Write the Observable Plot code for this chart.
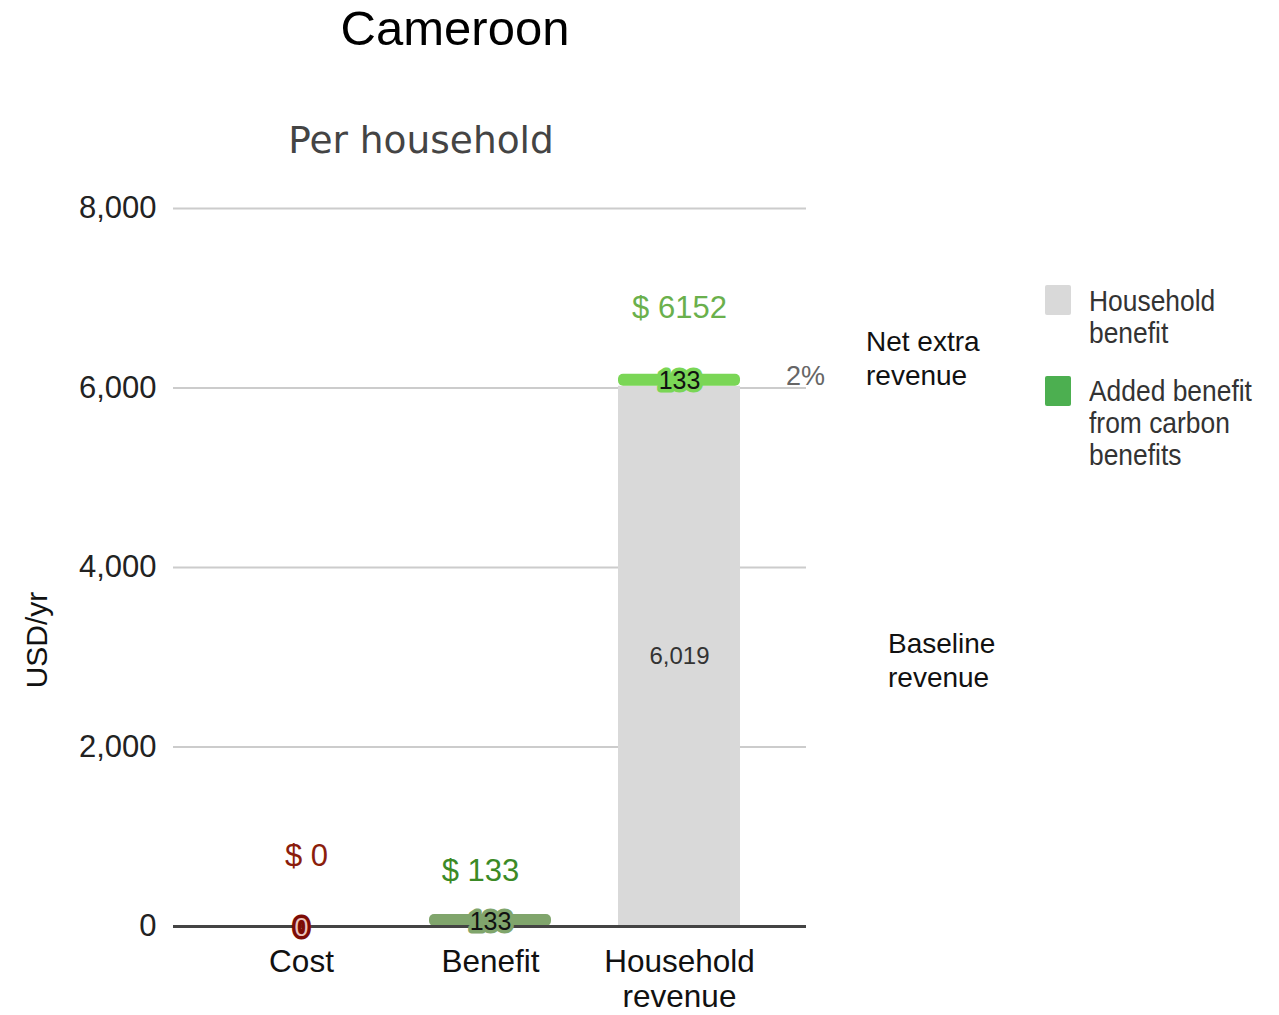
<!DOCTYPE html>
<html>
<head>
<meta charset="utf-8">
<script src="https://cdn.jsdelivr.net/npm/d3@7"></script>
<script src="https://cdn.jsdelivr.net/npm/@observablehq/plot@0.6"></script>
<style>
  html, body { margin: 0; padding: 0; background: #fff; }
  #wrap { position: relative; width: 1279px; height: 1015px; font-family: "Liberation Sans", Arial, sans-serif; overflow: hidden; }
  #chart { position: absolute; left: 0; top: 0; }
  .abs { position: absolute; white-space: nowrap; }
  .title { font-size: 49px; line-height: 1; color: #000; left: 455px; top: 4px; transform: translateX(-50%); }
  .subtitle { font-family: "DejaVu Sans", sans-serif; font-size: 37.5px; line-height: 1; color: #444; left: 421px; top: 122px; transform: translateX(-50%); }
  .ylab { font-size: 30px; line-height: 1; color: #111; left: 37px; top: 640px; transform: translate(-50%, -50%) rotate(-90deg); }
  .note { font-size: 28px; line-height: 34px; color: #111; }
  .sw { position: absolute; width: 26px; height: 30px; border-radius: 2px; }
  .leg { font-size: 30px; line-height: 32px; color: #333; transform: scaleX(0.88); transform-origin: left top; }
</style>
</head>
<body>
<div id="wrap">
  <div id="chart"></div>
  <div class="abs title" id="title"></div>
  <div class="abs subtitle" id="subtitle"></div>
  <div class="abs ylab" id="ylab"></div>
  <div class="abs note" id="note1" style="left:866px; top:325px;"></div>
  <div class="abs note" id="note2" style="left:888px; top:627px;"></div>
  <div class="sw" style="left:1045px; top:285px; background:#d9d9d9;"></div>
  <div class="abs leg" id="leg1" style="left:1089px; top:285px;"></div>
  <div class="sw" style="left:1045px; top:376px; background:#4caf50;"></div>
  <div class="abs leg" id="leg2" style="left:1089px; top:375px;"></div>
</div>
<script>
// ---- data ----
const titleText = "Cameroon";
const subtitleText = "Per household";
const categories = ["Cost", "Benefit", "Household revenue"];
const totals = [0, 133, 6152];
const householdBaseline = 6019;
const householdAdded = 133;
const benefitValue = 133;
const costValue = 0;
const shareText = "2%";
const yTicks = [0, 2000, 4000, 6000, 8000];
const yLabel = "USD/yr";
const notes = ["Net extra\nrevenue", "Baseline\nrevenue"];
const legendLabels = ["Household\nbenefit", "Added benefit\nfrom carbon\nbenefits"];

// ---- text blocks ----
const setLines = (id, s) => { document.getElementById(id).innerHTML = s.split("\n").join("<br>"); };
setLines("title", titleText);
setLines("subtitle", subtitleText);
setLines("ylab", yLabel);
setLines("note1", notes[0]);
setLines("note2", notes[1]);
setLines("leg1", legendLabels[0]);
setLines("leg2", legendLabels[1]);

// ---- tables ----
const totalRows = categories.map((c, i) => ({cat: c, total: totals[i]}));
const hh = categories[2];
const baseRows = [{cat: hh, y1: 0, y2: householdBaseline}];
const addedRows = [{cat: hh, y1: householdBaseline, y2: householdBaseline + householdAdded, v: householdAdded}];
const benefitRows = [{cat: categories[1], y1: 0, y2: benefitValue, v: benefitValue}];
const costRows = [{cat: categories[0], v: costValue}];

const chart = Plot.plot({
  width: 1279,
  height: 1015,
  marginLeft: 173,
  marginRight: 473,
  marginTop: 208,
  marginBottom: 89,
  style: {fontFamily: "'Liberation Sans', Arial, sans-serif", background: "#fff", overflow: "visible", color: "#222"},
  x: {domain: categories, paddingInner: 0.356, paddingOuter: 0.348, label: null},
  y: {domain: [0, 8000], label: null},
  marks: [
    Plot.gridY(yTicks.filter(d => d !== 0), {stroke: "#cccccc", strokeOpacity: 1, strokeWidth: 2}),
    Plot.axisY(yTicks, {tickSize: 0, tickPadding: 17, fontSize: 31, tickFormat: d3.format(","), label: null, fill: "#222"}),
    Plot.axisX({tickSize: 0, tickPadding: 20, fontSize: 31.5, lineHeight: 1.12, fill: "#111", label: null,
      tickFormat: d => d.replace(" ", "\n")}),
    Plot.barY(baseRows, {x: "cat", y1: "y1", y2: "y2", fill: "#d9d9d9"}),
    Plot.barY(addedRows, {x: "cat", y1: "y1", y2: "y2", fill: "#7ad656", rx: 5}),
    Plot.barY(benefitRows, {x: "cat", y1: "y1", y2: "y2", fill: "#80a56c", rx: 5}),
    Plot.ruleY([0], {stroke: "#444", strokeWidth: 3}),
    // value inside gray bar
    Plot.text(baseRows, {x: "cat", y: d => (d.y1 + d.y2) / 2, text: d => d3.format(",")(d.y2), fontSize: 24, fill: "#333"}),
    // labels on thin bars
    Plot.text(addedRows, {x: "cat", y: d => (d.y1 + d.y2) / 2, text: d => String(d.v), dy: 1, fontSize: 25, fill: "#111", stroke: "#7ad656", strokeWidth: 7}),
    Plot.text(benefitRows, {x: "cat", y: d => (d.y1 + d.y2) / 2, text: d => String(d.v), dy: 1, fontSize: 25, fill: "#111", stroke: "#80a56c", strokeWidth: 7}),
    Plot.text(costRows, {x: "cat", y: "v", text: d => String(d.v), dy: 1, fontSize: 25, fill: "#e9c3bd", stroke: "#7d0c05", strokeWidth: 7}),
    // totals
    Plot.text(totalRows.filter(d => d.cat === categories[0]), {x: "cat", y: "total", text: d => "$ " + d.total, dx: 5, dy: -70, fontSize: 31, fill: "#8b1d0c"}),
    Plot.text(totalRows.filter(d => d.cat === categories[1]), {x: "cat", y: "total", text: d => "$ " + d.total, dx: -10, dy: -43, fontSize: 31, fill: "#3b8a26"}),
    Plot.text(totalRows.filter(d => d.cat === categories[2]), {x: "cat", y: "total", text: d => "$ " + d.total, dy: -66, fontSize: 31, fill: "#6ab04c"}),
    // share
    Plot.text(totalRows.filter(d => d.cat === categories[2]), {x: "cat", y: "total", text: () => shareText, dx: 126, dy: 2, fontSize: 27, fill: "#666"})
  ]
});
document.getElementById("chart").appendChild(chart);
</script>
</body>
</html>
